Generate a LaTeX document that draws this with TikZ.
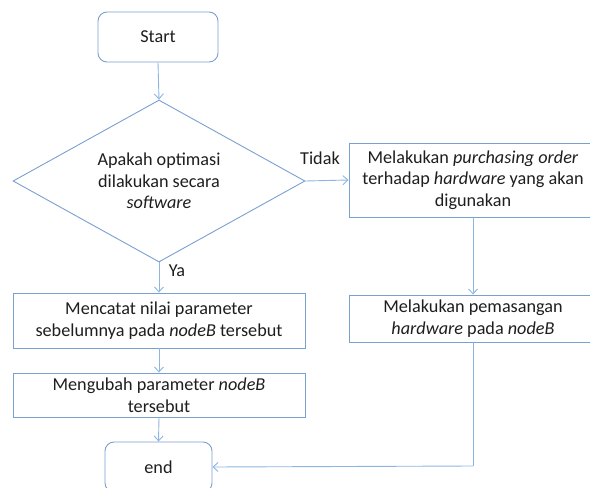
\documentclass[tikz,border=0pt]{standalone}
\usepackage{fontspec}
\setmainfont{Carlito}
\usetikzlibrary{shapes.geometric,arrows.meta}
\definecolor{boxline}{RGB}{122,160,208}
\definecolor{arrline}{RGB}{141,180,226}
\definecolor{txt}{RGB}{30,30,30}
\tikzset{
  every node/.style={font=\fontsize{18.2}{21.5}\selectfont, text=txt},
  procbox/.style={draw=boxline, line width=0.9pt, rectangle, align=center, inner sep=0pt},
  termbox/.style={draw=boxline, line width=0.9pt, rectangle, rounded corners=9pt, inner sep=0pt},
  decbox/.style={draw=boxline, line width=0.9pt, diamond, aspect=2, inner sep=0pt, align=center},
  conn/.style={draw=arrline, line width=0.9pt, -{Straight Barb[length=5pt,width=9pt]}},
  plain/.style={draw=arrline, line width=0.9pt},
  lbl/.style={inner sep=0pt}
}
\begin{document}
\begin{tikzpicture}[x=1pt,y=-1pt]
\useasboundingbox (0,0) rectangle (590,488);
\clip (0,0) rectangle (590,488);
\node[termbox, minimum width=120pt, minimum height=50pt] (start) at (158,37) {Start};
\node[decbox, minimum width=292pt, minimum height=162pt] (dec) at (159,181) {Apakah optimasi\\dilakukan secara\\\textit{software}};
\node[procbox, minimum width=248pt, minimum height=74pt] (r1) at (473,180) {Melakukan \textit{purchasing order}\\terhadap \textit{hardware} yang akan\\digunakan};
\node[procbox, minimum width=248pt, minimum height=47pt] (r2) at (473,318.5) {Melakukan pemasangan\\\textit{hardware} pada \textit{nodeB}};
\node[procbox, minimum width=292pt, minimum height=55pt] (l1) at (159,320.5) {Mencatat nilai parameter\\sebelumnya pada \textit{nodeB} tersebut};
\node[procbox, minimum width=292pt, minimum height=44pt] (l2) at (159,395) {Mengubah parameter \textit{nodeB}\\tersebut};
\node[termbox, minimum width=107pt, minimum height=50pt] (end) at (158.5,467) {end};
\node[lbl] (tidak) at (320,158) {Tidak};
\node[lbl] (ya) at (177,271) {Ya};
\coordinate (corner) at (473,466);

\draw[conn] (start.south) -- (dec.north);
\draw[conn] (dec.east) -- (r1.west);
\draw[conn] (dec.south) -- (l1.north);
\draw[conn] (l1.south) -- (l2.north);
\draw[conn] (l2.south) -- (end.north);
\draw[conn] (r1.south) -- (r2.north);
\draw[plain] (r2.south) -- (corner);
\draw[conn] (corner) -- (end.east);
\end{tikzpicture}
\end{document}
